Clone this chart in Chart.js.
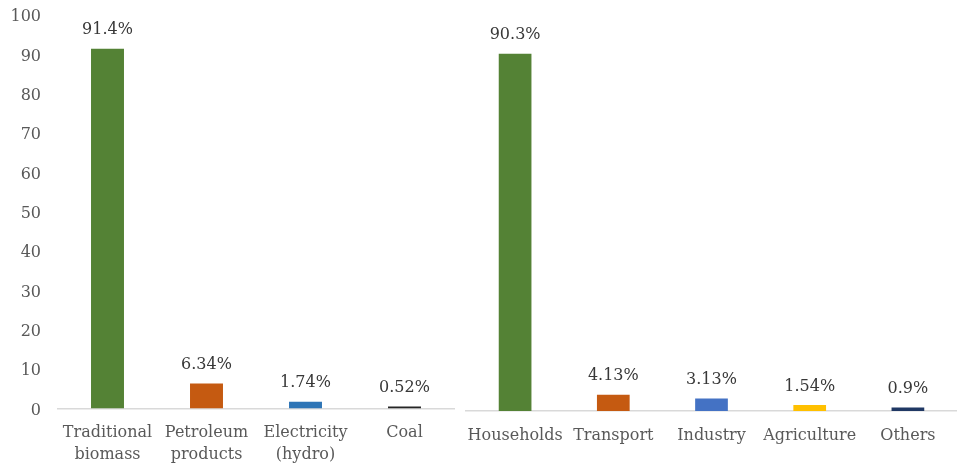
<!DOCTYPE html>
<html>
<head>
<meta charset="utf-8">
<script src="https://cdn.jsdelivr.net/npm/chart.js@4/dist/chart.umd.min.js"></script>
<style>
  html, body { margin: 0; padding: 0; background: #ffffff; }
  #wrap { position: relative; width: 957px; height: 468px; overflow: hidden; }
  #left { position: absolute; left: 0; top: 0; }
  #right { position: absolute; left: 460px; top: 0; }
</style>
</head>
<body>
<div id="wrap">
  <canvas id="left" width="460" height="468"></canvas>
  <canvas id="right" width="497" height="468"></canvas>
</div>
<script>
// Energy supply by source (%)
const sourceCategories = [['Traditional', 'biomass'], ['Petroleum', 'products'], ['Electricity', '(hydro)'], 'Coal'];
const sourceValues = [91.4, 6.34, 1.74, 0.52];
const sourceColors = ['#548235', '#C55A11', '#2E75B6', '#262626'];

// Energy consumption by sector (%)
const sectorCategories = ['Households', 'Transport', 'Industry', 'Agriculture', 'Others'];
const sectorValues = [90.3, 4.13, 3.13, 1.54, 0.9];
const sectorColors = ['#548235', '#C55A11', '#4472C4', '#FFC000', '#203864'];

const yTicks = [0, 10, 20, 30, 40, 50, 60, 70, 80, 90, 100];

const FONT = "'DejaVu Serif', 'Liberation Serif', serif";
Chart.defaults.font.family = FONT;
Chart.defaults.font.size = 16;
Chart.defaults.color = '#595959';

// Percentage labels above each bar
const valueLabels = {
  id: 'valueLabels',
  afterDatasetsDraw(chart) {
    const ctx = chart.ctx;
    const ds = chart.data.datasets[0];
    const meta = chart.getDatasetMeta(0);
    ctx.save();
    ctx.font = '16px ' + FONT;
    ctx.fillStyle = '#383838';
    ctx.textAlign = 'center';
    ctx.textBaseline = 'middle';
    meta.data.forEach((bar, i) => {
      ctx.fillText(ds.data[i] + '%', bar.x, bar.y - 18.5);
    });
    ctx.restore();
  }
};

function makeChart(id, categories, values, colors, showY, pad, xHeight) {
  return new Chart(document.getElementById(id), {
    type: 'bar',
    data: {
      labels: categories,
      datasets: [{
        data: values,
        backgroundColor: colors,
        borderWidth: 0,
        categoryPercentage: 1,
        barPercentage: 0.333
      }]
    },
    options: {
      responsive: false,
      devicePixelRatio: 1,
      animation: false,
      layout: { padding: pad },
      plugins: { legend: { display: false }, tooltip: { enabled: false } },
      scales: {
        x: {
          grid: { display: false, drawTicks: false },
          border: { display: true, color: '#D9D9D9', width: 1.5 },
          ticks: { color: '#595959', padding: 14, maxRotation: 0, autoSkip: false, font: { size: 16, lineHeight: 1.35 } },
          afterFit(scale) {
            scale.height = xHeight;
            scale.paddingLeft = 0;
            scale.paddingRight = 0;
          }
        },
        y: {
          display: showY,
          min: 0,
          max: 100,
          afterBuildTicks(scale) { scale.ticks = yTicks.map(v => ({ value: v })); },
          grid: { display: false, drawTicks: false },
          border: { display: false },
          ticks: { color: '#595959', padding: 17, labelOffset: 2, font: { size: 16 } },
          afterFit(scale) {
            if (showY) scale.width = 58;
            scale.paddingTop = 0;
            scale.paddingBottom = 0;
          }
        }
      }
    },
    plugins: [valueLabels]
  });
}

makeChart('left', sourceCategories, sourceValues, sourceColors, true,
  { left: 0, right: 6, top: 15, bottom: 0 }, 59.5);
makeChart('right', sectorCategories, sectorValues, sectorColors, false,
  { left: 6, right: 0, top: 15.3, bottom: 0 }, 57);
</script>
</body>
</html>
